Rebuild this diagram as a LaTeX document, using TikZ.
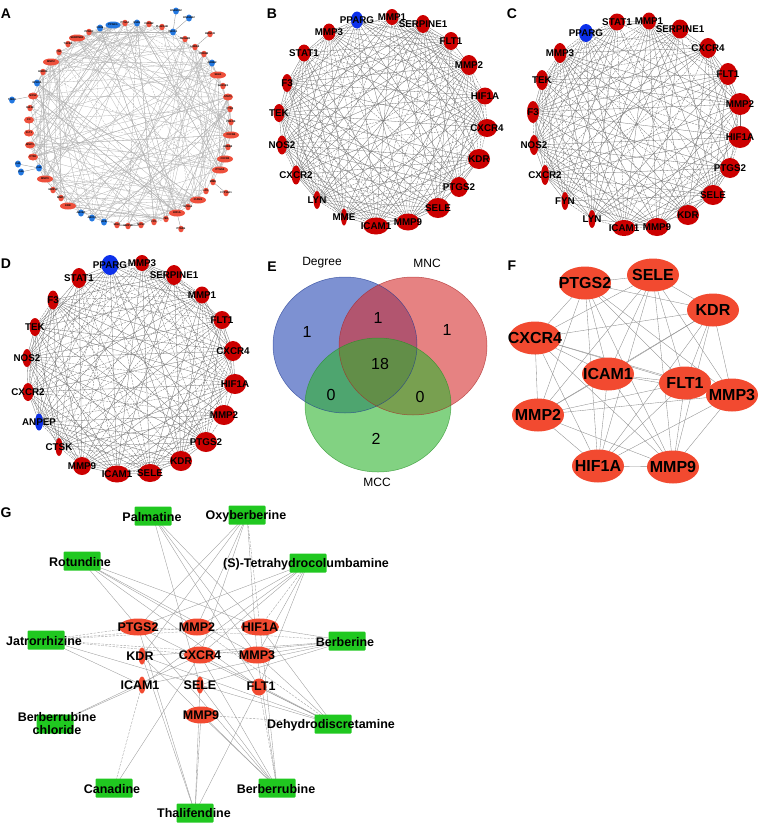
\documentclass[tikz,border=0pt]{standalone}
\usepackage{fontspec}
\setmainfont{Liberation Sans}
\usetikzlibrary{shapes.geometric,backgrounds}
\definecolor{dred}{RGB}{204,0,0}
\definecolor{dblue}{RGB}{12,48,235}
\definecolor{ared}{RGB}{238,80,60}
\definecolor{ablue}{RGB}{35,120,225}
\definecolor{fred}{RGB}{242,74,48}
\definecolor{ggreen}{RGB}{32,200,32}
\definecolor{vblue}{RGB}{38,71,180}
\definecolor{vred}{RGB}{213,47,47}
\definecolor{vgreen}{RGB}{47,180,47}
\begin{document}
\begin{tikzpicture}[x=1pt,y=-1pt,
  gn/.style={ellipse,inner sep=0pt,draw=none},
  bred/.style={gn,fill=dred},
  bblue/.style={gn,fill=dblue},
  blab/.style={font=\fontsize{9.8}{10}\selectfont\bfseries,inner sep=0pt},
  bedge/.style={draw=black!55,line width=0.3pt},
  bedgedash/.style={bedge,dash pattern=on 2pt off 1pt},
  aR/.style={gn,fill=ared,minimum width=16pt,minimum height=7pt},
  am/.style={gn,fill=ared,minimum width=10pt,minimum height=7pt},
  ar/.style={gn,fill=ared,minimum width=5.5pt,minimum height=6.5pt},
  aB/.style={gn,fill=ablue,minimum width=15pt,minimum height=7pt},
  ab/.style={gn,fill=ablue,minimum width=6pt,minimum height=7pt},
  alab/.style={font=\fontsize{2.6}{3}\selectfont\bfseries,inner sep=0pt},
  aedge/.style={draw=black!30,line width=0.3pt},
  aedgedash/.style={aedge,dash pattern=on 2pt off 1.2pt},
  plab/.style={font=\fontsize{14}{14}\selectfont\bfseries,inner sep=0pt},
  vlab/.style={font=\fontsize{12}{12}\selectfont,inner sep=0pt},
  vnum/.style={font=\fontsize{16}{16}\selectfont,inner sep=0pt},
  fnode/.style={gn,fill=fred,minimum width=52pt,minimum height=33pt},
  flab/.style={font=\fontsize{16}{16}\selectfont\bfseries,inner sep=0pt},
  fedge/.style={draw=black!45,line width=0.35pt},
  gcomp/.style={rectangle,fill=ggreen,inner sep=0pt,minimum width=37pt,minimum height=19pt,rounded corners=1pt},
  gtar/.style={gn,fill=fred,minimum height=17pt},
  glab/.style={font=\fontsize{12.5}{13}\selectfont\bfseries,inner sep=0pt,align=center},
  gedge/.style={draw=black!40,line width=0.35pt},
  gedgedash/.style={gedge,dash pattern=on 2.5pt off 1.2pt}
]
\useasboundingbox (0,0) rectangle (767,827);
\pgfmathsetseed{12345}

% ---------- panel letters ----------
\node[plab] (pA) at (6,14) {A};
\node[plab] (pB) at (272,14) {B};
\node[plab] (pC) at (512,14) {C};
\node[plab] (pD) at (6,264) {D};
\node[plab] (pE) at (272,267) {E};
\node[plab] (pF) at (512,266) {F};
\node[plab] (pG) at (6,513) {G};

% ---------- panel A ----------
\foreach \n/\x/\y/\s/\t in {
 1/113/25/aB/PPARG, 2/125/23/ar/PTGS1, 3/137/23/ab/ESR1, 4/149/24/ar/CHRM2,
 5/162/27/ar/PLA2G1B, 6/173/32/ab/NR3C1, 7/185/39/ar/TBXA2R, 8/195/47/ar/LRRK2,
 9/204/54/ar/PDE4B, 10/212/63/ab/ADRB2, 11/218/75/aR/SELE, 12/223/86/ar/AKR1B1,
 13/228/97/am/STAT1, 14/230/109/ar/PTK2, 15/231/122/ar/PRKCB, 16/231/135/aR/CXCR4,
 17/228/147/ar/ERBB2, 18/225/159/aR/CXCR2, 19/220/170/aR/PTGS2, 20/213/182/ar/MME,
 21/206/191/ar/LYN, 22/198/200/aR/ICAM1, 23/188/207/ar/EPHA2, 24/177/213/aR/HIF1A,
 25/166/219/ar/TEK, 26/154/222/ar/FYN, 27/141/225/ar/NOS3, 28/128/226/ar/MMP13,
 29/117/225/ar/SELP, 30/104/222/ab/ACE, 31/92/218/ab/ABCC1, 32/81/213/ab/ABCB1,
 33/68/206/aR/KDR, 34/61/198/ar/MMP3, 35/53/190/ar/MMP12, 36/45/179/aR/MMP9,
 37/39/168/ab/CA2, 38/33/157/am/CTSK, 39/30/145/am/MMP1, 40/29/133/am/FLT1,
 41/29/120/am/F3, 42/30/108/ar/IGF1R, 43/33/96/am/NOS2, 44/37/83/ab/EPHX2,
 45/43/72/ar/HMOX1, 46/51/62/aR/MMP2, 47/59/52/ar/TNF, 48/68/44/ar/TGFB1,
 49/77/38/aR/SERPINE1, 50/89/32/ar/PPARD, 51/100/28/ab/CD36,
 52/176/11/ab/HSD17B2, 53/189/18/ab/HSD11B2, 54/210/34/ar/HMGCR,
 55/226/193/ar/CYP19A1, 56/181/229/ar/PTGDS, 57/12/100/ab/TNNI3,
 58/18/164/ab/CA1, 59/21/172/ab/CA4}
{\node[\s] (a\n) at (\x,\y) {}; \node[alab] (al\n) at (\x,\y) {\t};}

\begin{pgfonlayer}{background}
\foreach \k in {1,...,170}{
  \pgfmathrandominteger{\ia}{1}{51}
  \pgfmathrandominteger{\ib}{1}{50}
  \pgfmathtruncatemacro{\ic}{mod(\ia+\ib-1,51)+1}
  \pgfmathrandominteger{\rr}{1}{10}
  \ifnum\rr<4 \draw[aedgedash] (a\ia.center) -- (a\ic.center);
  \else \draw[aedge] (a\ia.center) -- (a\ic.center); \fi
}
\foreach \h in {1,11,13,16,19,22,24,33,36,46,49}{
  \foreach \k in {1,...,7}{
    \pgfmathrandominteger{\ib}{1}{50}
    \pgfmathtruncatemacro{\ic}{mod(\h+\ib-1,51)+1}
    \draw[aedge] (a\h.center) -- (a\ic.center);
  }
}
\foreach \u/\v in {52/6,53/6,54/8,55/20,56/24,57/43,58/37,59/37}
  {\draw[draw=black!45,line width=0.3pt] (a\u.center) -- (a\v.center);}
\end{pgfonlayer}

% ---------- panel B ----------
\foreach \n/\x/\y/\w/\h/\c/\t in {
 1/357/20/12/17/bblue/PPARG, 2/392/17/13/16/bred/MMP1, 3/423/24/14/18/bred/SERPINE1,
 4/451/41/15/18/bred/FLT1, 5/469/65/17/20/bred/MMP2, 6/485/96/17/17/bred/HIF1A,
 7/487/128/20/18/bred/CXCR4, 8/479/159/22/20/bred/KDR, 9/459/187/18/20/bred/PTGS2,
 10/438/208/23/20/bred/SELE, 11/408/222/23/17/bred/MMP9, 12/376/226/25/17/bred/ICAM1,
 13/344/217/6/17/bred/MME, 14/317/200/7/18/bred/LYN, 15/296/175/9/19/bred/CXCR2,
 16/282/145/10/19/bred/NOS2, 17/279/113/11/18/bred/TEK, 18/287/83/10/18/bred/F3,
 19/304/53/13/17/bred/STAT1, 20/329/32/13/17/bred/MMP3}
{\node[\c,minimum width=\w pt,minimum height=\h pt] (b\n) at (\x,\y) {};
 \node[blab] (bl\n) at (\x,\y) {\t};}

% ---------- panel C ----------
\foreach \n/\x/\y/\w/\h/\c/\t in {
 1/617/22/16/17/bred/STAT1, 2/649/21/14/17/bred/MMP1, 3/680/29/17/19/bred/SERPINE1,
 4/708/48/17/20/bred/CXCR4, 5/728/74/18/22/bred/FLT1, 6/740/104/22/22/bred/MMP2,
 7/740/137/23/22/bred/HIF1A, 8/730/168/20/20/bred/PTGS2, 9/713/195/22/20/bred/SELE,
 10/688/215/22/20/bred/KDR, 11/657/227/23/18/bred/MMP9, 12/624/228/23/16/bred/ICAM1,
 13/592/219/7/18/bred/LYN, 14/565/201/7/18/bred/FYN, 15/545/175/8/20/bred/CXCR2,
 16/534/145/9/20/bred/NOS2, 17/533/112/12/22/bred/F3, 18/542/80/12/20/bred/TEK,
 19/560/53/13/20/bred/MMP3, 20/586/33/14/18/bblue/PPARG}
{\node[\c,minimum width=\w pt,minimum height=\h pt] (c\n) at (\x,\y) {};
 \node[blab] (cl\n) at (\x,\y) {\t};}

% ---------- panel D ----------
\foreach \n/\x/\y/\w/\h/\c/\t in {
 1/110/265/17/20/bblue/PPARG, 2/142/263/14/16/bred/MMP3, 3/174/275/16/20/bred/SERPINE1,
 4/202/295/15/17/bred/MMP1, 5/222/320/17/18/bred/FLT1, 6/233/351/18/20/bred/CXCR4,
 7/235/384/22/20/bred/HIF1A, 8/224/415/22/20/bred/MMP2, 9/206/442/22/20/bred/PTGS2,
 10/181/461/22/20/bred/KDR, 11/150/473/23/18/bred/SELE, 12/117/474/25/17/bred/ICAM1,
 13/82/466/18/18/bred/MMP9, 14/59/447/7/18/bred/CTSK, 15/39/422/8/17/bblue/ANPEP,
 16/28/392/11/18/bred/CXCR2, 17/27/358/9/18/bred/NOS2, 18/35/327/11/18/bred/TEK,
 19/53/300/11/19/bred/F3, 20/79/278/15/20/bred/STAT1}
{\node[\c,minimum width=\w pt,minimum height=\h pt] (d\n) at (\x,\y) {};
 \node[blab] (dl\n) at (\x,\y) {\t};}

\begin{pgfonlayer}{background}
\foreach \p in {b,c,d}{
  \foreach \i in {1,...,19}{
    \pgfmathtruncatemacro{\js}{\i+1}
    \foreach \j in {\js,...,20}{
      \pgfmathrandominteger{\rr}{1}{20}
      \ifnum\rr<18
        \ifnum\rr<7 \draw[bedgedash] (\p\i.center) -- (\p\j.center);
        \else \draw[bedge] (\p\i.center) -- (\p\j.center); \fi
      \fi
    }
  }
}
\end{pgfonlayer}

% ---------- panel E (Venn) ----------
\fill[vblue,fill opacity=0.6] (345,345) ellipse [x radius=72pt,y radius=68pt];
\fill[vred,fill opacity=0.6] (413,346) ellipse [x radius=74pt,y radius=69pt];
\fill[vgreen,fill opacity=0.6] (378,405) ellipse [x radius=73pt,y radius=67pt];
\draw[vblue!80!black,line width=0.5pt,opacity=0.7] (345,345) ellipse [x radius=72pt,y radius=68pt];
\draw[vred!80!black,line width=0.5pt,opacity=0.7] (413,346) ellipse [x radius=74pt,y radius=69pt];
\draw[vgreen!80!black,line width=0.5pt,opacity=0.7] (378,405) ellipse [x radius=73pt,y radius=67pt];
\node[vlab] (vdeg) at (322,263) {Degree};
\node[vlab] (vmnc) at (427,263) {MNC};
\node[vlab] (vmcc) at (377,482) {MCC};
\node[vnum] (v1) at (307,332) {1};
\node[vnum] (v2) at (378,318) {1};
\node[vnum] (v3) at (447,330) {1};
\node[vnum] (v4) at (380,364) {18};
\node[vnum] (v5) at (331,395) {0};
\node[vnum] (v6) at (420,397) {0};
\node[vnum] (v7) at (376,439) {2};

% ---------- panel F ----------
\foreach \n/\x/\y/\t in {1/653/275/SELE, 2/585/283/PTGS2, 3/713/310/KDR, 4/535/338/CXCR4,
 5/608/374/ICAM1, 6/685/383/FLT1, 7/732/395/MMP3, 8/538/415/MMP2, 9/598/466/HIF1A, 10/673/467/MMP9}
{\node[fnode] (f\n) at (\x,\y) {}; \node[flab] (fl\n) at (\x,\y) {\t};}
\begin{pgfonlayer}{background}
\foreach \i in {1,...,9}{
  \pgfmathtruncatemacro{\js}{\i+1}
  \foreach \j in {\js,...,10}{\draw[fedge] (f\i.center) -- (f\j.center);}
}
\end{pgfonlayer}

% ---------- panel G ----------
\foreach \n/\x/\y in {pal/153/516, oxy/247/515, thc/308/563, rot/82/561, jat/46/640,
 ber/347/641, brc/55/724, deh/333/724, can/114/788, brb/277/788, tha/195/813}
{\node[gcomp] (g\n) at (\x,\y) {};}
\foreach \n/\x/\y/\w in {ptgs2/138/627/38, mmp2/197/627/31, hif1a/260/627/38, kdr/142/656/7,
 cxcr4/200/655/32, mmp3/257/655/33, icam1/142/685/7, sele/200/685/7, flt1/259/687/15, mmp9/201/715/33}
{\node[gtar,minimum width=\w pt] (g\n) at (\x,\y) {};}

\node[glab] (lpal) at (152,517) {Palmatine};
\node[glab] (loxy) at (246,516) {Oxyberberine};
\node[glab] (lthc) at (306,564) {(S)-Tetrahydrocolumbamine};
\node[glab] (lrot) at (80,562) {Rotundine};
\node[glab] (ljat) at (44,641) {Jatrorrhizine};
\node[glab] (lber) at (345,642) {Berberine};
\node[glab] (lbrc) at (57,724) {Berberrubine\\chloride};
\node[glab] (ldeh) at (331,725) {Dehydrodiscretamine};
\node[glab] (lcan) at (112,789) {Canadine};
\node[glab] (lbrb) at (276,789) {Berberrubine};
\node[glab] (ltha) at (194,813) {Thalifendine};
\node[glab] (lptgs2) at (138,627) {PTGS2};
\node[glab] (lmmp2) at (197,627) {MMP2};
\node[glab] (lhif1a) at (260,627) {HIF1A};
\node[glab] (lkdr) at (140,656) {KDR};
\node[glab] (lcxcr4) at (200,655) {CXCR4};
\node[glab] (lmmp3) at (257,655) {MMP3};
\node[glab] (licam1) at (140,685) {ICAM1};
\node[glab] (lsele) at (200,685) {SELE};
\node[glab] (lflt1) at (261,686) {FLT1};
\node[glab] (lmmp9) at (201,715) {MMP9};

\begin{pgfonlayer}{background}
\foreach \u/\v in {pal/sele, pal/mmp3, pal/flt1, pal/hif1a,
 oxy/ptgs2, oxy/cxcr4, oxy/mmp2, oxy/mmp3, oxy/kdr,
 thc/ptgs2, thc/mmp3, thc/cxcr4, thc/flt1, thc/mmp2, thc/icam1,
 rot/ptgs2, rot/hif1a, rot/mmp3, rot/mmp2, rot/flt1,
 jat/icam1, jat/sele,
 ber/hif1a, ber/mmp3, ber/cxcr4, ber/icam1, ber/sele, ber/kdr,
 brc/icam1, brc/cxcr4,
 deh/flt1, deh/mmp3, deh/hif1a, deh/ptgs2, deh/sele, deh/cxcr4, deh/kdr,
 can/cxcr4,
 brb/mmp9, brb/ptgs2, brb/kdr, brb/cxcr4, brb/mmp3, brb/sele, brb/hif1a,
 tha/mmp9, tha/ptgs2, tha/flt1, tha/sele, tha/kdr}
{\draw[gedge] (g\u.center) -- (g\v.center);}
\foreach \u/\v in {oxy/hif1a, thc/hif1a, jat/ptgs2, jat/hif1a, jat/mmp3, jat/cxcr4, jat/mmp2,
 ber/ptgs2, deh/mmp9, deh/mmp2, can/icam1, brb/flt1}
{\draw[gedgedash] (g\u.center) -- (g\v.center);}
\end{pgfonlayer}
\end{tikzpicture}
\end{document}
